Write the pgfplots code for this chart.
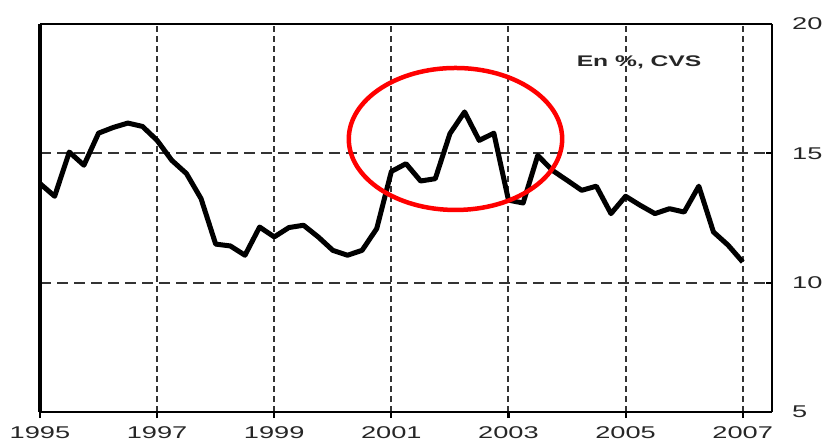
\documentclass[border=0pt]{standalone}
\usepackage{fontspec}
\setmainfont{Liberation Sans}[FakeStretch=1.6]
\usepackage{pgfplots}
\pgfplotsset{compat=1.18}
\pgfplotstableread{
x y
1995.00 13.83
1995.25 13.34
1995.50 15.05
1995.75 14.54
1996.00 15.78
1996.25 16.00
1996.50 16.17
1996.75 16.04
1997.00 15.50
1997.25 14.73
1997.50 14.22
1997.75 13.25
1998.00 11.49
1998.25 11.42
1998.50 11.06
1998.75 12.15
1999.00 11.77
1999.25 12.13
1999.50 12.22
1999.75 11.77
2000.00 11.25
2000.25 11.06
2000.50 11.25
2000.75 12.09
2001.00 14.30
2001.25 14.60
2001.50 13.93
2001.75 14.02
2002.00 15.76
2002.25 16.60
2002.50 15.50
2002.75 15.78
2003.00 13.19
2003.25 13.08
2003.50 14.92
2003.75 14.34
2004.00 13.96
2004.25 13.57
2004.50 13.73
2004.75 12.67
2005.00 13.34
2005.25 12.99
2005.50 12.67
2005.75 12.86
2006.00 12.73
2006.25 13.73
2006.50 11.96
2006.75 11.45
2007.00 10.80
}\datatable
\begin{document}
\begin{tikzpicture}[x=1pt,y=1pt]
\useasboundingbox (0,0) rectangle (826,442);
\begin{axis}[
  at={(40pt,30pt)}, anchor=south west,
  scale only axis, width=732pt, height=388pt,
  xmin=1995, xmax=2007.5, ymin=5, ymax=20,
  xtick={1995,1997,...,2007},
  ytick={5,10,15,20},
  axis y line*=right,
  axis x line*=bottom,
  /pgf/number format/assume math mode=true,
  /pgf/number format/1000 sep={},
  tick label style={font=\fontsize{17}{20}\selectfont, text=black!85},
  xticklabel style={anchor=base, inner sep=0pt, yshift=-20.5pt},
  yticklabel style={anchor=west, inner sep=0pt, xshift=20pt},
  xtick align=outside,
  ytick align=inside,
  major tick length=6pt,
  tick style={line width=2.2pt, black},
  axis line style={line width=2.8pt},
  x axis line style={-}, y axis line style={-},
  xmajorgrids, ymajorgrids,
  x grid style={line width=2pt, black!80, dash pattern=on 6pt off 4pt},
  y grid style={line width=2pt, black!80, dash pattern=on 11pt off 6pt},
  clip=false,
]
\addplot[black, line width=5pt, line join=round] table[x=x,y=y] {\datatable};
\draw[line width=2.4pt] (rel axis cs:0,1) -- (rel axis cs:1,1);
\draw[line width=4.5pt] (rel axis cs:0,0) -- (rel axis cs:0,1);
\draw[red, line width=4.5pt] (axis cs:2002.095,15.555) ellipse [x radius=106.7pt, y radius=71pt];
\node[anchor=base, inner sep=0pt, font=\fontsize{15.4}{18}\selectfont\bfseries, text=black!85] at (axis cs:2005.23,18.36) {En \%, CVS};
\end{axis}
\end{tikzpicture}
\end{document}
